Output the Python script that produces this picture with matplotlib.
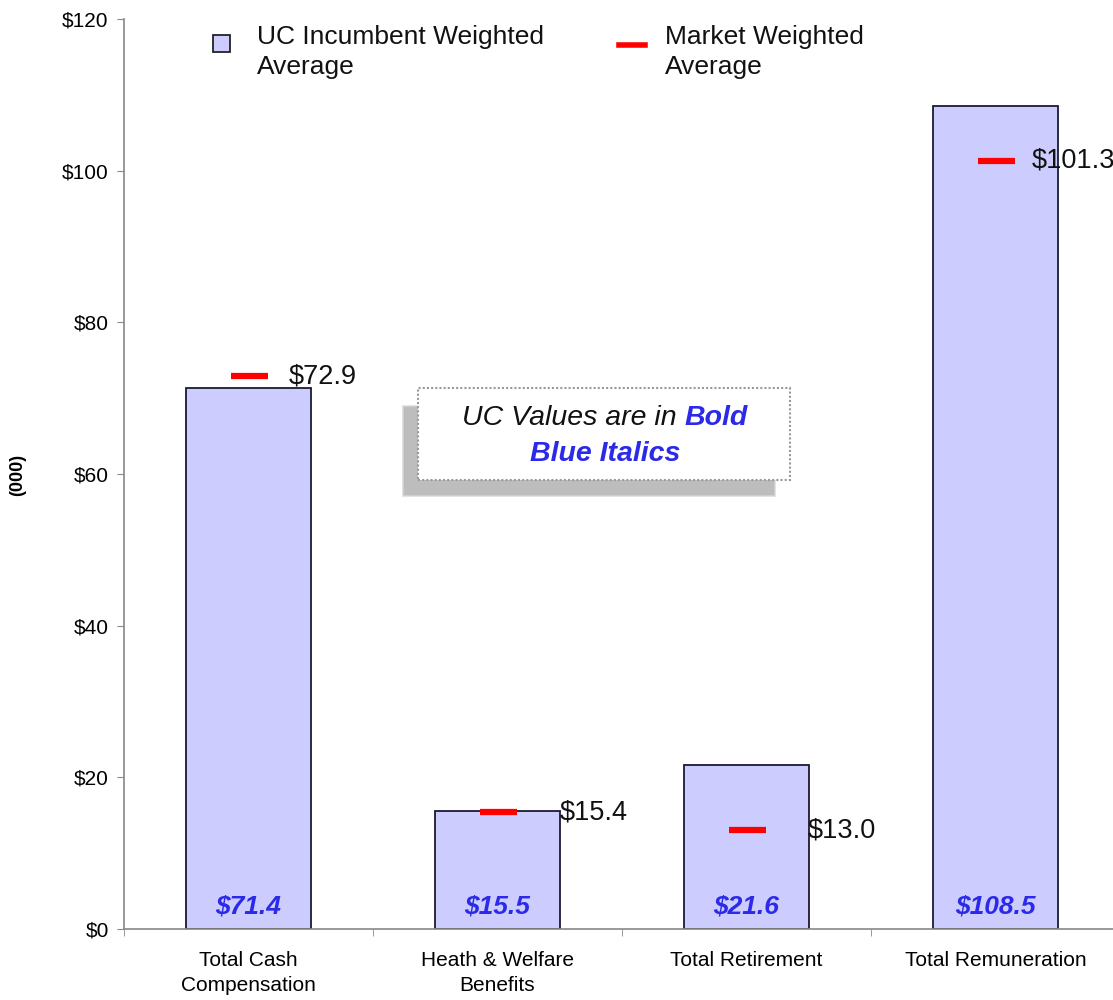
import matplotlib
matplotlib.use("Agg")
import matplotlib.pyplot as plt
from matplotlib.patches import Rectangle
import numpy as np

# ---- data -------------------------------------------------------------
categories = ["Total Cash\nCompensation", "Heath & Welfare\nBenefits",
              "Total Retirement", "Total Remuneration"]
uc_values = [71.4, 15.5, 21.6, 108.5]
market_values = [72.9, 15.4, 13.0, 101.3]
y_ticks = [0, 20, 40, 60, 80, 100, 120]

# ---- style ------------------------------------------------------------
BAR_FACE = "#CCCCFF"
BAR_EDGE = "#1a1a33"
UC_BLUE = "#2a2ae8"
MARKET_RED = "#FF0000"
FONT = "Liberation Sans"
label_dx_pt = [29, 45, 44, 26]   # horizontal offset of market labels (points)

W, H = 1113, 1000
fig = plt.figure(figsize=(W / 100, H / 100), dpi=100)
plt.rcParams["font.family"] = FONT


def fx(x):
    return x / W


def fy(y):
    return 1 - y / H


# axes spans beyond the right edge of the figure
left, right, top, bottom = 124, 1120, 19, 929
ax = fig.add_axes([fx(left), fy(bottom), fx(right - left), (bottom - top) / H])

n = len(categories)
x = np.arange(n) + 0.5
ax.bar(x, uc_values, width=0.5, color=BAR_FACE, edgecolor=BAR_EDGE,
       linewidth=1.3, zorder=2)
ax.scatter(x, market_values, marker="_", s=(37 * 0.72) ** 2,
           linewidths=4.5, color=MARKET_RED, zorder=3)

for xi, v, dx in zip(x, market_values, label_dx_pt):
    ax.annotate(f"${v:.1f}", (xi, v), xytext=(dx, 0), textcoords="offset points",
                ha="left", va="center", fontsize=19.5, color="#111111", zorder=4)

for xi, v in zip(x, uc_values):
    ax.text(xi, 3.0, f"${v:.1f}", ha="center", va="center", fontsize=19,
            fontweight="bold", fontstyle="italic", color=UC_BLUE, zorder=4)

ax.set_xlim(0, n)
ax.set_ylim(0, 120)
ax.set_yticks(y_ticks)
ax.set_yticklabels([f"${t}" for t in y_ticks], fontsize=15)
ax.set_xticks(x)
ax.set_xticklabels(categories, fontsize=15, linespacing=1.4)
ax.set_xticks(np.arange(n + 1), minor=True)
ax.tick_params(axis="x", which="major", length=0, pad=16)
ax.tick_params(axis="x", which="minor", length=5, color="#888888")
ax.tick_params(axis="y", length=5, color="#888888", pad=6)
for s in ("top", "right"):
    ax.spines[s].set_visible(False)
for s in ("left", "bottom"):
    ax.spines[s].set_color("#888888")
    ax.spines[s].set_linewidth(1.2)

fig.text(fx(18), fy(475), "(000)", rotation=90, ha="center", va="center",
         fontsize=13, fontweight="bold")

# ---- legend -----------------------------------------------------------
fig.patches.append(Rectangle((fx(213), fy(52)), 17 / W, 17 / H,
                             transform=fig.transFigure, facecolor=BAR_FACE,
                             edgecolor="#222222", linewidth=1.3))
fig.text(fx(257), fy(52), "UC Incumbent Weighted\nAverage", ha="left",
         va="center", fontsize=19, linespacing=1.3, color="#111111")
fig.lines.append(plt.Line2D([fx(619), fx(645)], [fy(45), fy(45)],
                            transform=fig.transFigure, color=MARKET_RED,
                            linewidth=4))
fig.text(fx(665), fy(52), "Market Weighted\nAverage", ha="left",
         va="center", fontsize=19, linespacing=1.3, color="#111111")

# ---- note box with shadow --------------------------------------------
bx0, by0, bx1, by1 = 418, 388, 790, 480
for i, c in enumerate(["#e2e2e2", "#cfcfcf", "#bdbdbd"]):
    grow = 3 - i
    fig.patches.append(Rectangle((fx(bx0 - 13 - grow), fy(by1 + 14 + grow)),
                                 (bx1 - bx0 - 4 + 2 * grow) / W,
                                 (by1 - by0 - 6 + 2 * grow) / H,
                                 transform=fig.transFigure,
                                 facecolor=c, edgecolor="none", zorder=5))
fig.patches.append(Rectangle((fx(bx0), fy(by1)), (bx1 - bx0) / W,
                             (by1 - by0) / H, transform=fig.transFigure,
                             facecolor="white", edgecolor="#999999",
                             linestyle=(0, (1, 1)), linewidth=1.5, zorder=6))

note_size = 20.5
t1 = fig.text(0, 0, "UC Values are in ", fontsize=note_size, fontstyle="italic",
              color="#111111", zorder=7)
t2 = fig.text(0, 0, "Bold", fontsize=note_size, fontstyle="italic",
              fontweight="bold", color=UC_BLUE, zorder=7)
fig.canvas.draw()
r = fig.canvas.get_renderer()
w1 = t1.get_window_extent(r).width
w2 = t2.get_window_extent(r).width
cx = 605
start = cx - (w1 + w2) / 2
t1.set_position((fx(start), fy(418)))
t1.set_va("center")
t2.set_position((fx(start + w1), fy(418)))
t2.set_va("center")
fig.text(fx(cx), fy(454), "Blue Italics", ha="center", va="center",
         fontsize=note_size, fontstyle="italic", fontweight="bold",
         color=UC_BLUE, zorder=7)

fig.savefig("out.png", dpi=100)
